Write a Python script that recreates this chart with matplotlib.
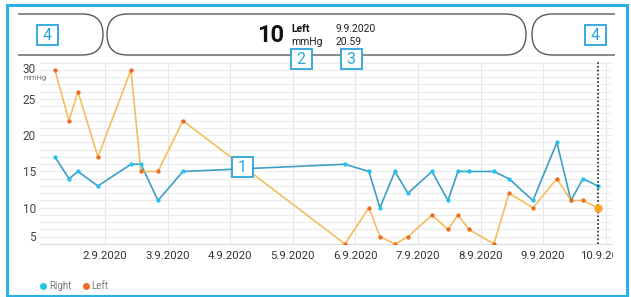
import matplotlib
matplotlib.use("Agg")
import matplotlib.pyplot as plt
import matplotlib.dates as mdates
from matplotlib.patches import FancyBboxPatch, Rectangle
from matplotlib.ticker import FuncFormatter, MultipleLocator
from matplotlib.transforms import Bbox, TransformedBbox
import pandas as pd

plt.rcParams['font.family'] = ['Roboto', 'DejaVu Sans']

# mittaukset (aika, oikea, vasen)
times = [
    "2020-09-01 04:50", "2020-09-01 10:12", "2020-09-01 13:40", "2020-09-01 21:19",
    "2020-09-02 09:58", "2020-09-02 13:48", "2020-09-02 20:20", "2020-09-03 05:54",
    "2020-09-05 20:01", "2020-09-06 05:12", "2020-09-06 09:26", "2020-09-06 15:11",
    "2020-09-06 20:10", "2020-09-07 05:23", "2020-09-07 11:30", "2020-09-07 15:20",
    "2020-09-07 19:34", "2020-09-08 05:08", "2020-09-08 10:54", "2020-09-08 20:05",
    "2020-09-09 05:17", "2020-09-09 10:39", "2020-09-09 15:16", "2020-09-09 20:59",
]
right = [17, 14, 15, 13, 16, 16, 11, 15, 16, 15, 10, 15, 12, 15, 11, 15, 15,
         15, 14, 11, 19, 11, 14, 13]
left = [29, 22, 26, 17, 29, 15, 15, 22, 5, 10, 6, 5, 6, 9, 7, 9, 7,
        5, 12, 10, 14, 11, 11, 10]
y_ticks = [5, 10, 15, 20, 25, 30]
label_days = list(range(2, 11))

current_value = "10"
current_side = "Left"
current_date = "9.9.2020"
current_time = "20.59"

t = pd.to_datetime(times)

BLUE_LINE = "#3d9fc8"
BLUE_DOT = "#22c4ef"
ORANGE_LINE = "#f6bd5e"
ORANGE_DOT = "#ee6a1f"
FRAME = "#2bb0ea"
LABEL = "#2ba3dc"

W, H = 631, 297
fig = plt.figure(figsize=(W / 100, H / 100), dpi=100)
fig.patch.set_facecolor("white")

ax = fig.add_axes([40 / W, 1 - 244 / H, (612 - 40) / W, (244 - 62) / H])
ax.set_facecolor("white")

ax.plot(t, right, color=BLUE_LINE, lw=1.2, zorder=3)
ax.plot(t, right, ls="none", marker="o", ms=2.1, color=BLUE_DOT, zorder=4)
ax.plot(t, left, color=ORANGE_LINE, lw=1.2, zorder=3)
ax.plot(t, left, ls="none", marker="o", ms=2.1, color=ORANGE_DOT, zorder=4)
ax.axvline(t[-1], color="#222222", lw=1.2, ls=(0, (1, 1.3)), zorder=5)
ax.plot(t[-1:], left[-1:], ls="none", marker="o", ms=6, color="#f7a823",
        markeredgewidth=0, zorder=6)

x0 = pd.Timestamp("2020-09-01") - pd.Timedelta(hours=0.9)
x1 = pd.Timestamp("2020-09-10 02:24")
ax.set_xlim(x0, x1)
ax.set_ylim(5.1, 30.1)

ax.xaxis.set_major_locator(mdates.DayLocator(bymonthday=label_days))
ax.xaxis.set_major_formatter(FuncFormatter(
    lambda v, p: "{d.day}.{d.month}.{d.year}".format(d=mdates.num2date(v))))
ax.set_yticks(y_ticks)
ax.yaxis.set_minor_locator(MultipleLocator(1))

ax.grid(True, which="major", axis="x", color="#e6e6e6", lw=0.8)
ax.grid(True, which="both", axis="y", color="#ececec", lw=0.8)
ax.set_axisbelow(True)
ax.tick_params(which="both", length=0)
ax.tick_params(axis="x", pad=5, labelsize=8.2, labelcolor="#333333")
ax.tick_params(axis="y", pad=3, labelsize=8.5, labelcolor="#444444")
for s in ["top", "left", "right"]:
    ax.spines[s].set_visible(False)
ax.spines["bottom"].set_color("#dddddd")

fig.canvas.draw()
yt = ax.yaxis.get_major_ticks()
yt[0].label1.set_va("bottom")
yt[-1].label1.set_va("top")

# rajataan viimeinen päivämäärä kortin reunaan
clip = TransformedBbox(Bbox([[0, 0], [613 / W, 1]]), fig.transFigure)
for lab in ax.get_xticklabels():
    lab.set_clip_on(True)
    lab.set_clip_box(clip)

# päällyskerros pikseleinä
ov = fig.add_axes([0, 0, 1, 1], zorder=10)
ov.set_xlim(0, W)
ov.set_ylim(H, 0)
ov.axis("off")
ov.patch.set_alpha(0)

inner = Rectangle((18, 0), 597, H, transform=ov.transData, visible=False)
ov.add_patch(inner)

for (px, pw) in [(-40, 143), (107, 419), (532, 140)]:
    pill = FancyBboxPatch((px, 14), pw, 41, boxstyle="round,pad=0,rounding_size=20.5",
                          fc="white", ec="#5a5a5a", lw=1.0)
    ov.add_patch(pill)
    pill.set_clip_path(inner)

ov.text(284, 35, current_value, fontsize=17, fontweight="bold", ha="right", va="center",
        color="#111111")
ov.text(291, 29, current_side, fontsize=7.5, fontweight="bold", ha="left", va="center",
        color="#111111")
ov.text(291, 42, "mmHg", fontsize=7.5, ha="left", va="center", color="#222222")
ov.text(336, 29, current_date, fontsize=7.5, ha="left", va="center", color="#222222")
ov.text(336, 42, current_time, fontsize=7.5, ha="left", va="center", color="#222222")

ov.text(24, 78, "mmHg", fontsize=5.5, ha="left", va="center", color="#777777")

for num, cx, cy in [("4", 47, 35), ("4", 595, 35), ("2", 301, 59), ("3", 351, 59),
                    ("1", 242, 167)]:
    ov.add_patch(Rectangle((cx - 10.5, cy - 10), 21, 20, fc="white", ec=LABEL, lw=1.3))
    ov.text(cx, cy + 0.5, num, fontsize=11.5, ha="center", va="center", color=LABEL)

ov.plot([43], [286], "o", ms=4, color=BLUE_DOT)
ov.text(49, 286, "Right", fontsize=7, ha="left", va="center", color="#777777")
ov.plot([86], [286], "o", ms=4, color=ORANGE_DOT)
ov.text(91, 286, "Left", fontsize=7, ha="left", va="center", color="#777777")

ov.add_patch(Rectangle((6.5, 5), 620, 290.5, fc="none", ec=FRAME, lw=2.2))

fig.savefig("out.png", dpi=100)
